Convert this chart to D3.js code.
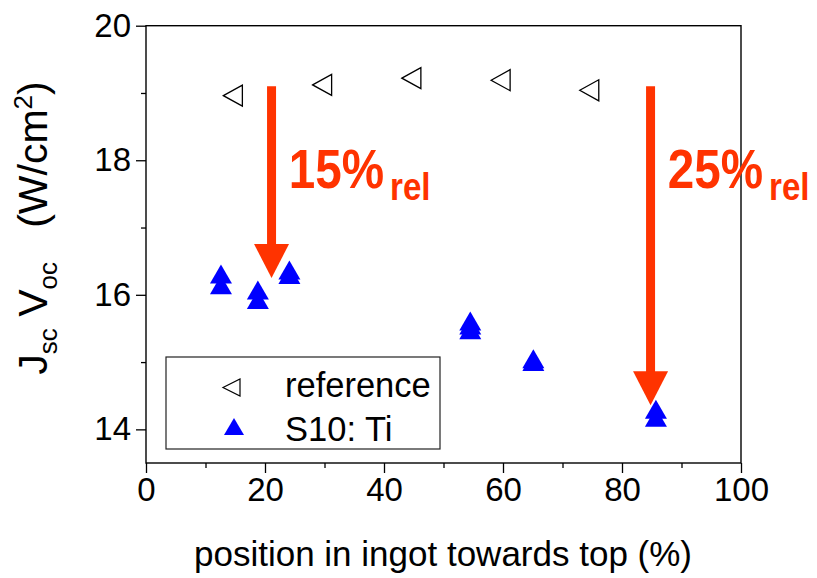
<!DOCTYPE html>
<html>
<head>
<meta charset="utf-8">
<script src="https://cdn.jsdelivr.net/npm/d3@7"></script>
<style>
  html, body { margin: 0; padding: 0; background: #fff; }
  svg { display: block; font-family: "Liberation Sans", Arial, sans-serif; }
</style>
</head>
<body>
<svg id="chart" width="817" height="578"></svg>
<script>
// ---- data ----
const refX = [14.6, 29.6, 44.6, 59.6, 74.5];
const refY = [18.96, 19.12, 19.22, 19.19, 19.04];
const tiX = [12.6, 12.6, 18.8, 18.8, 24.1, 24.1, 54.5, 54.5, 54.5, 65.1, 65.1, 85.7, 85.7];
const tiY = [16.31, 16.15, 16.07, 15.93, 16.37, 16.30, 15.61, 15.55, 15.48, 15.05, 15.01, 14.30, 14.18];
const seriesNames = ["reference", "S10: Ti"];
const xMajorTicks = [0, 20, 40, 60, 80, 100];
const xMinorTicks = [10, 30, 50, 70, 90];
const yMajorTicks = [14, 16, 18, 20];
const yMinorTicks = [15, 17, 19];
const arrowX = [21.1, 84.8];
const arrowTop = [19.1, 19.1];
const arrowTip = [16.25, 14.36];
const annoText = ["15%", "25%"];
const annoSub = ["rel", "rel"];
const annoX = [24.0, 87.7];
const annoY = [17.585, 17.585];
const xTitle = "position in ingot towards top (%)";

// ---- layout ----
const svg = d3.select("#chart");
const x = d3.scaleLinear().domain([0, 100]).range([146, 741]);
const y = d3.scaleLinear().domain([13.5, 20]).range([463, 25.7]);
const FONT = 33;
const RED = "#ff3300";
const BLUE = "#0000ff";

// frame
svg.append("rect")
  .attr("x", x(0)).attr("y", y(20))
  .attr("width", x(100) - x(0)).attr("height", y(13.5) - y(20))
  .attr("fill", "none").attr("stroke", "#000").attr("stroke-width", 1.4);

// axes
function styleAxis(g) {
  g.select(".domain").remove();
  g.selectAll(".tick line").attr("stroke", "#000").attr("stroke-width", 1.3);
  g.selectAll("text").attr("font-size", FONT).attr("fill", "#000")
    .attr("font-family", "Liberation Sans, Arial, sans-serif");
}
svg.append("g").attr("transform", `translate(0,${y(13.5)})`)
  .call(d3.axisBottom(x).tickValues(xMajorTicks).tickSize(10).tickPadding(5).tickFormat(d3.format("d")))
  .call(styleAxis);
svg.append("g").attr("transform", `translate(0,${y(13.5)})`)
  .call(d3.axisBottom(x).tickValues(xMinorTicks).tickSize(5).tickFormat(""))
  .call(styleAxis);
svg.append("g").attr("transform", `translate(${x(0)},0)`)
  .call(d3.axisLeft(y).tickValues(yMajorTicks).tickSize(10).tickPadding(5).tickFormat(d3.format("d")))
  .call(styleAxis);
svg.append("g").attr("transform", `translate(${x(0)},0)`)
  .call(d3.axisLeft(y).tickValues(yMinorTicks).tickSize(5).tickFormat(""))
  .call(styleAxis);

// x title
svg.append("text")
  .attr("x", 443).attr("y", 566)
  .attr("text-anchor", "middle").attr("font-size", 35).text(xTitle);

// y title
const yt = svg.append("text")
  .attr("transform", `translate(47,228) rotate(-90)`)
  .attr("text-anchor", "middle").attr("font-size", 41);
yt.append("tspan").text("J");
yt.append("tspan").attr("font-size", 26).attr("dy", 10).text("sc");
yt.append("tspan").attr("dy", -10).text(" V");
yt.append("tspan").attr("font-size", 26).attr("dy", 10).text("oc");
yt.append("tspan").attr("dy", -10).text("\u00a0\u00a0\u00a0(W/cm");
yt.append("tspan").attr("font-size", 26).attr("dy", -15).text("2");
yt.append("tspan").attr("dy", 15).text(")");

// marker shapes
function leftTri(cx, cy, w, h) {
  return `M${cx - w / 2},${cy} L${cx + w / 2},${cy - h / 2} L${cx + w / 2},${cy + h / 2} Z`;
}
function upTri(cx, cy, w, h) {
  return `M${cx},${cy - h / 2} L${cx + w / 2},${cy + h / 2} L${cx - w / 2},${cy + h / 2} Z`;
}

// arrows
const arrows = arrowX.map((v, i) => ({ x: v, top: arrowTop[i], tip: arrowTip[i] }));
const HEAD_H = 34, HEAD_W = 35, SHAFT_W = 9;
svg.append("g").selectAll("g.arrow").data(arrows).join("g").attr("class", "arrow")
  .each(function (d) {
    const g = d3.select(this);
    const cx = x(d.x), ty = y(d.top), tipY = y(d.tip);
    g.append("rect").attr("x", cx - SHAFT_W / 2).attr("y", ty)
      .attr("width", SHAFT_W).attr("height", tipY - HEAD_H - ty + 1).attr("fill", RED);
    g.append("path")
      .attr("d", `M${cx - HEAD_W / 2},${tipY - HEAD_H} L${cx + HEAD_W / 2},${tipY - HEAD_H} L${cx},${tipY} Z`)
      .attr("fill", RED);
  });

// annotations (bold, horizontally condensed)
annoText.forEach((t, i) => {
  const ax = x(annoX[i]), ay = y(annoY[i]);
  const tx = svg.append("text")
    .attr("transform", `translate(${ax},${ay}) scale(0.85,1)`)
    .attr("font-weight", "bold").attr("font-size", 56).attr("fill", RED);
  tx.append("tspan").text(t);
  tx.append("tspan").attr("font-size", 39).attr("dx", 7).attr("dy", 12).text(annoSub[i]);
});

// reference points
const refData = refX.map((v, i) => ({ x: v, y: refY[i] }));
svg.append("g").selectAll("path").data(refData).join("path")
  .attr("d", d => leftTri(x(d.x), y(d.y), 19, 21))
  .attr("fill", "none").attr("stroke", "#000").attr("stroke-width", 1.3);

// Ti points
const tiData = tiX.map((v, i) => ({ x: v, y: tiY[i] }));
svg.append("g").selectAll("path").data(tiData).join("path")
  .attr("d", d => upTri(x(d.x), y(d.y), 22, 19))
  .attr("fill", BLUE);

// legend
const lg = svg.append("g");
lg.append("rect").attr("x", 166).attr("y", 357).attr("width", 274).attr("height", 92)
  .attr("fill", "#fff").attr("stroke", "#222").attr("stroke-width", 1.2);
lg.append("path").attr("d", leftTri(231.5, 387.5, 17, 17))
  .attr("fill", "none").attr("stroke", "#000").attr("stroke-width", 1.2);
lg.append("path").attr("d", upTri(234, 426.5, 20, 17)).attr("fill", BLUE);
lg.append("text").attr("x", 285).attr("y", 397).attr("font-size", 34.5).text(seriesNames[0]);
lg.append("text").attr("x", 285).attr("y", 441).attr("font-size", 34.5).text(seriesNames[1]);
</script>
</body>
</html>
